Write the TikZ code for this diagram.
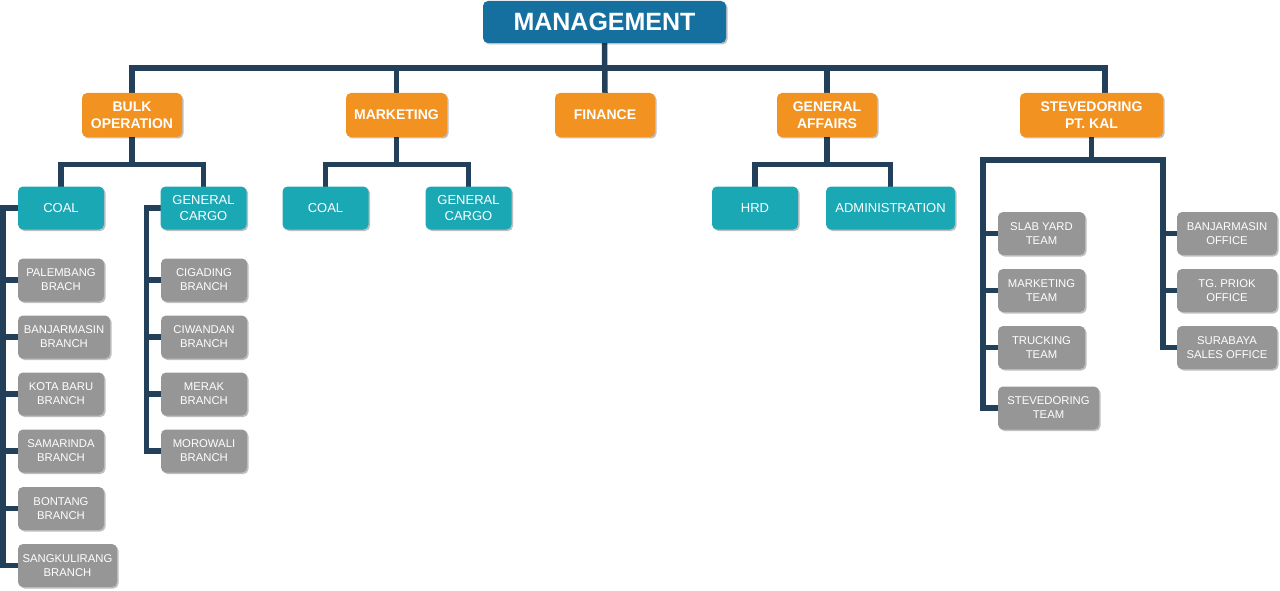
\documentclass[tikz,border=0pt]{standalone}
\usepackage{fontspec}
\setmainfont{Liberation Sans}
\usetikzlibrary{shadows,calc}
\pgfdeclarelayer{background}
\pgfsetlayers{background,main}
\definecolor{mblue}{RGB}{21,112,160}
\definecolor{morange}{RGB}{242,146,33}
\definecolor{mteal}{RGB}{26,168,180}
\definecolor{mgray}{RGB}{150,150,150}
\definecolor{mline}{RGB}{34,64,90}
\tikzset{
  box/.style={rectangle, rounded corners=5pt, inner sep=0pt, align=center, text=white,
    drop shadow={shadow xshift=1.5pt, shadow yshift=-1.5pt, opacity=0.25, fill=black}},
  topbox/.style={box, fill=mblue, font=\fontsize{25}{30}\selectfont\bfseries},
  orbox/.style={box, fill=morange, minimum width=100pt, minimum height=44pt, font=\fontsize{14}{17}\selectfont\bfseries},
  tlbox/.style={box, fill=mteal, minimum width=86pt, minimum height=43pt, font=\fontsize{13}{16}\selectfont},
  grbox/.style={box, fill=mgray, minimum width=86pt, minimum height=43pt, font=\fontsize{11.3}{14}\selectfont},
  conn/.style={draw=mline, line width=5.5pt, line join=miter, line cap=rect}
}
\begin{document}
\begin{tikzpicture}[x=1pt,y=-1pt]
\useasboundingbox (0,0) rectangle (1280,591);
% top
\node[topbox, minimum width=243pt, minimum height=42pt] (mgmt) at (604.5,22) {MANAGEMENT};
% level 1
\node[orbox] (bulk) at (132,115) {BULK\\OPERATION};
\node[orbox, minimum width=101pt] (mkt) at (396.5,115) {MARKETING};
\node[orbox] (fin) at (605,115) {FINANCE};
\node[orbox] (ga) at (827,115) {GENERAL\\AFFAIRS};
\node[orbox, minimum width=143pt] (stev) at (1091.5,115) {STEVEDORING\\PT. KAL};
% level 2
\node[tlbox] (bcoal) at (61,208) {COAL};
\node[tlbox] (bgc) at (203.5,208) {GENERAL\\CARGO};
\node[tlbox] (mcoal) at (325.5,208) {COAL};
\node[tlbox] (mgc) at (468.5,208) {GENERAL\\CARGO};
\node[tlbox] (hrd) at (755,208) {HRD};
\node[tlbox, minimum width=129pt] (adm) at (890.5,208) {ADMINISTRATION};
% bulk coal branches
\node[grbox] (palem) at (61,280) {PALEMBANG\\BRACH};
\node[grbox, minimum width=92pt] (banj) at (64,337) {BANJARMASIN\\BRANCH};
\node[grbox] (kota) at (61,394) {KOTA BARU\\BRANCH};
\node[grbox] (samar) at (61,451) {SAMARINDA\\BRANCH};
\node[grbox] (bont) at (61,508.5) {BONTANG\\BRANCH};
\node[grbox, minimum width=99pt] (sangk) at (67.5,565.5) {SANGKULIRANG\\BRANCH};
% bulk general cargo branches
\node[grbox] (ciga) at (204,280) {CIGADING\\BRANCH};
\node[grbox] (ciwa) at (204,337) {CIWANDAN\\BRANCH};
\node[grbox] (mera) at (204,394) {MERAK\\BRANCH};
\node[grbox] (moro) at (204,451) {MOROWALI\\BRANCH};
% stevedoring teams
\node[grbox, minimum width=87pt] (slab) at (1041.5,233.5) {SLAB YARD\\TEAM};
\node[grbox, minimum width=87pt] (mteam) at (1041.5,290.5) {MARKETING\\TEAM};
\node[grbox, minimum width=87pt] (truck) at (1041.5,347.5) {TRUCKING\\TEAM};
\node[grbox, minimum width=101pt] (steam) at (1048.5,408) {STEVEDORING\\TEAM};
\node[grbox, minimum width=100pt] (bjo) at (1227,233.5) {BANJARMASIN\\OFFICE};
\node[grbox, minimum width=100pt] (tgp) at (1227,290.5) {TG. PRIOK\\OFFICE};
\node[grbox, minimum width=100pt] (sura) at (1227,347.5) {SURABAYA\\SALES OFFICE};
% connectors
\begin{pgfonlayer}{background}
\coordinate (stevtop) at (1105,93);
\draw[conn] (mgmt.south) -- (fin.north);
\draw[conn] (bulk.north) -- ++(0,-25) -| (stevtop);
\draw[conn] (mkt.north) -- ++(0,-25);
\draw[conn] (ga.north) -- ++(0,-25);
% bulk
\draw[conn] (bulk.south) -- ++(0,23);
\draw[conn] (bcoal.north) -- ++(0,-22) -| (bgc.north);
% marketing
\draw[conn] (mkt.south) -- ++(0,23);
\draw[conn] (mcoal.north) -- ++(0,-22) -| (mgc.north);
% general affairs
\draw[conn] (ga.south) -- ++(0,23);
\draw[conn] (hrd.north) -- ++(0,-22) -| (adm.north);
% bulk coal list
\draw[conn] (bcoal.west) -- ++(-15,0) |- (sangk.west);
\draw[conn] (palem.west) -- ++(-15,0);
\draw[conn] (banj.west) -- ++(-15,0);
\draw[conn] (kota.west) -- ++(-15,0);
\draw[conn] (samar.west) -- ++(-15,0);
\draw[conn] (bont.west) -- ++(-15,0);
% bulk gc list
\draw[conn] (bgc.west) -- ++(-14,0) |- (moro.west);
\draw[conn] (ciga.west) -- ++(-14,0);
\draw[conn] (ciwa.west) -- ++(-14,0);
\draw[conn] (mera.west) -- ++(-14,0);
% stevedoring
\coordinate (sj) at (1091.5,160);
\draw[conn] (stev.south) -- (sj);
\draw[conn] (steam.west) -- ++(-15,0) |- (sj);
\draw[conn] (sj) -| ($(sura.west)+(-14,0)$) -- (sura.west);
\draw[conn] (slab.west) -- ++(-15,0);
\draw[conn] (mteam.west) -- ++(-15,0);
\draw[conn] (truck.west) -- ++(-15,0);
\draw[conn] (bjo.west) -- ++(-14,0);
\draw[conn] (tgp.west) -- ++(-14,0);
\end{pgfonlayer}
\end{tikzpicture}
\end{document}
